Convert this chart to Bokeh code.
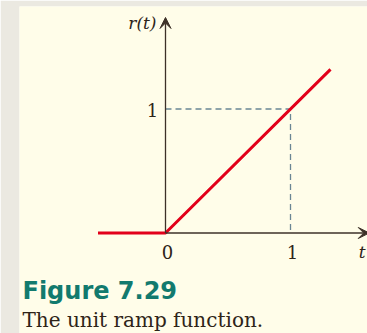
from bokeh.plotting import figure
from bokeh.models import Range1d, Arrow, VeeHead, Label, ColumnDataSource
from bokeh.core.properties import value
from bokeh.embed import file_html
from bokeh.resources import INLINE

# ---- data ----
ramp_t = [-0.54, 0.0, 1.32]
ramp_r = [0.0, 0.0, 1.32]
guide_t = [0.0, 1.0, 1.0]
guide_r = [1.0, 1.0, 0.0]
xtick_pos = [0.0, 1.0]
xtick_labels = ["0", "1"]
ytick_pos = [1.0]
ytick_labels = ["1"]
x_axis_end = 1.63
y_axis_end = 1.738

CREAM = "#fffde9"
GRAY = "#ebe9e1"
INK = "#2e2418"
AXIS = "#3d3128"

p = figure(width=367, height=333, output_backend="svg", toolbar_location=None,
           x_range=Range1d(-1.168, 1.616), y_range=Range1d(-0.8105, 1.8266),
           min_border_left=19, min_border_right=0, min_border_top=6, min_border_bottom=0,
           background_fill_color=CREAM, border_fill_color=GRAY, outline_line_color=None)
p.axis.visible = False
p.grid.visible = False

# guide dashed lines
p.line(guide_t, guide_r, line_color="#6a8694", line_width=1.3, line_dash="6 4")

# axes with arrow heads
p.add_layout(Arrow(x_start=0, y_start=0, x_end=x_axis_end, y_end=0,
                   line_color=AXIS, line_width=1.3,
                   end=VeeHead(size=11, fill_color=AXIS, line_color=AXIS, line_width=1)))
p.add_layout(Arrow(x_start=0, y_start=0, x_end=0, y_end=y_axis_end,
                   line_color=AXIS, line_width=1.3,
                   end=VeeHead(size=11, fill_color=AXIS, line_color=AXIS, line_width=1)))

# ramp
p.line(ramp_t, ramp_r, line_color="#e2001a", line_width=3, line_join="round")

# tick labels
xs = ColumnDataSource(dict(x=xtick_pos, y=[0.0] * len(xtick_pos), t=xtick_labels))
p.text(x="x", y="y", text="t", source=xs, x_offset=2, y_offset=19,
       text_align="center", text_baseline="middle", text_color=INK,
       text_font=value("DejaVu Serif"), text_font_size="18px")
ys = ColumnDataSource(dict(x=[0.0] * len(ytick_pos), y=ytick_pos, t=ytick_labels))
p.text(x="x", y="y", text="t", source=ys, x_offset=-13, y_offset=1,
       text_align="center", text_baseline="middle", text_color=INK,
       text_font=value("DejaVu Serif"), text_font_size="18px")

# axis titles
p.text(x=[x_axis_end], y=[0.0], text=["t"], x_offset=-7, y_offset=19,
       text_align="center", text_baseline="middle", text_color=INK,
       text_font=value("DejaVu Serif"), text_font_style="italic", text_font_size="17px")
p.text(x=[0.0], y=[y_axis_end], text=["r(t)"], x_offset=-9, y_offset=6,
       text_align="right", text_baseline="middle", text_color=INK,
       text_font=value("DejaVu Serif"), text_font_style="italic", text_font_size="17px")

# caption
p.add_layout(Label(x=3, y=43, x_units="screen", y_units="screen", text="Figure 7.29",
                   text_font="DejaVu Sans", text_font_style="bold", text_font_size="24px",
                   text_color="#127a6e", text_baseline="alphabetic"))
p.add_layout(Label(x=3, y=14, x_units="screen", y_units="screen", text="The unit ramp function.",
                   text_font="DejaVu Serif", text_font_size="20px",
                   text_color=INK, text_baseline="alphabetic"))

open("out.html", "w").write(file_html(p, INLINE))
